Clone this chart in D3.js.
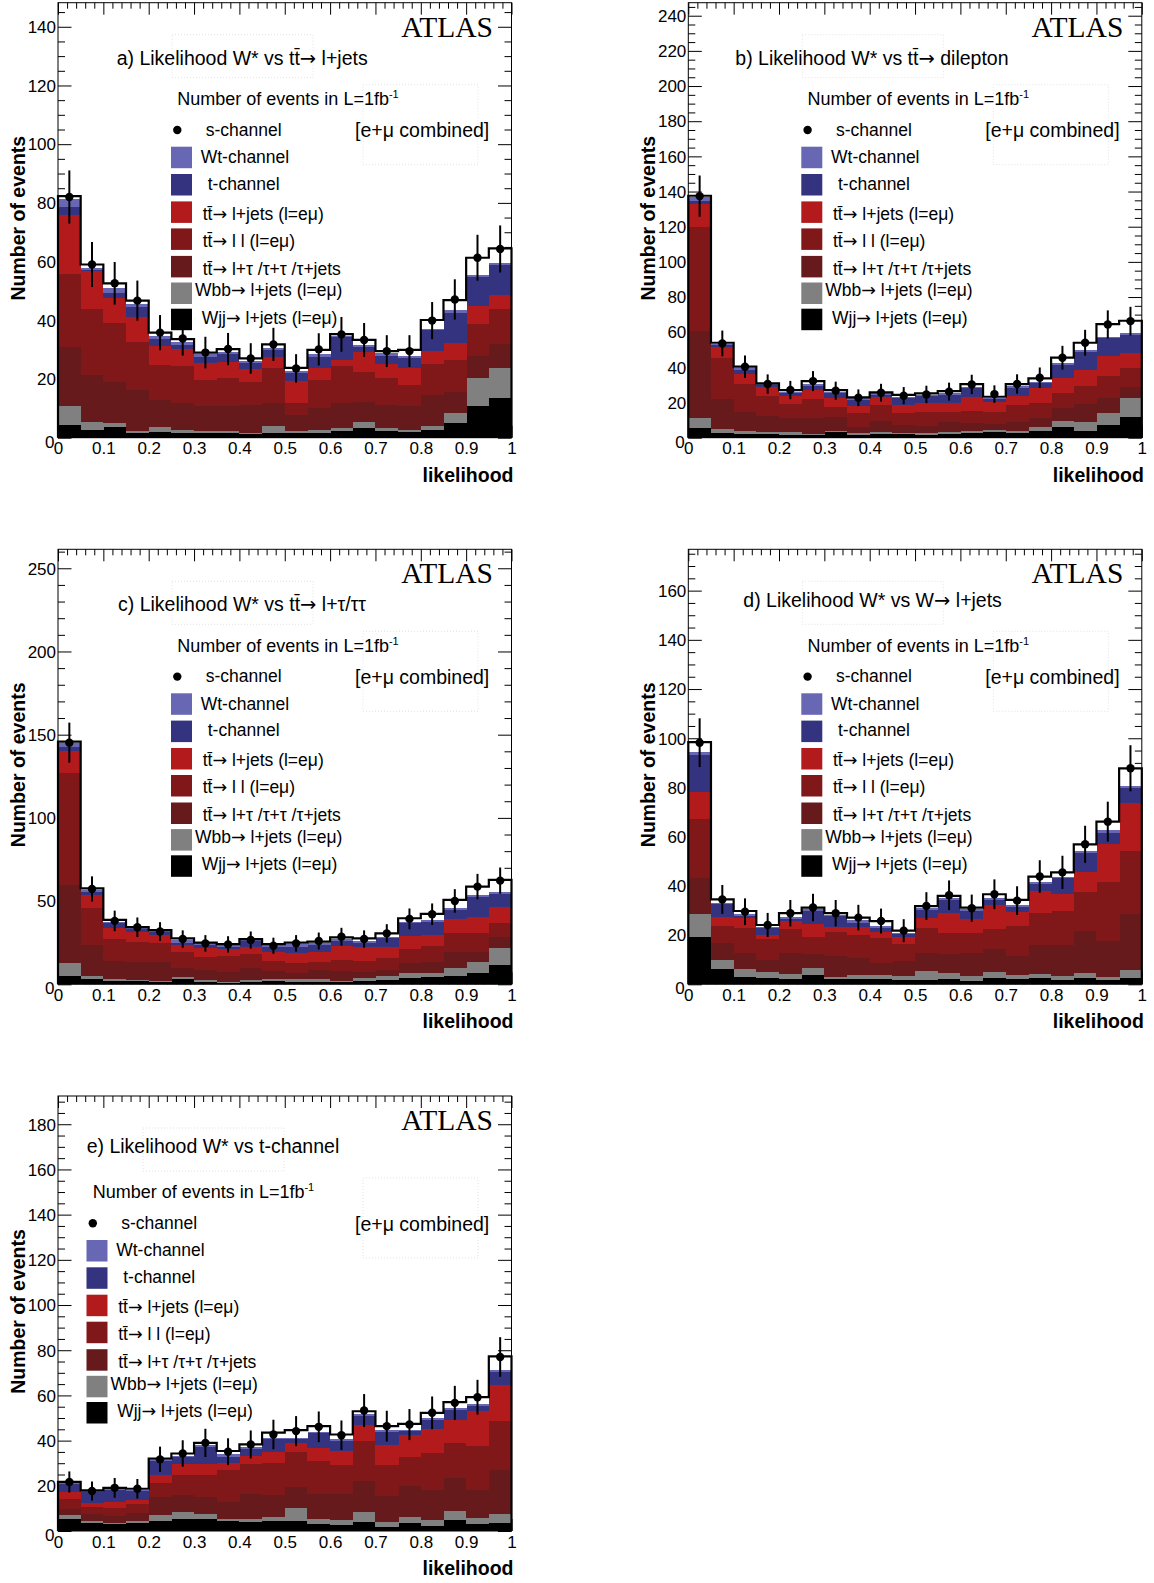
<!DOCTYPE html>
<html><head><meta charset="utf-8">
<script src="https://cdn.jsdelivr.net/npm/d3@7"></script>
<style>
body{margin:0;background:#fff}
svg{display:block}
text{font-family:"Liberation Sans",Arial,Helvetica,sans-serif;fill:#000}
</style>
</head><body><div id="chart"></div>
<script>
// ---------------- data ----------------
const binLow = [0,0.05,0.1,0.15,0.2,0.25,0.3,0.35,0.4,0.45,0.5,0.55,0.6,0.65,0.7,0.75,0.8,0.85,0.9,0.95];
const binWidth = 0.05;
const xTickLabels = ["0","0.1","0.2","0.3","0.4","0.5","0.6","0.7","0.8","0.9","1"];
const seriesNames = ["Wjj","Wbb","ttTau","ttLL","ttLJ","tch","Wt","sch"];
const legendLabels = ["s-channel","Wt-channel","t-channel","tt\u0304\u2192 l+jets (l=e\u03bc)","tt\u0304\u2192 l l (l=e\u03bc)","tt\u0304\u2192 l+\u03c4 /\u03c4+\u03c4 /\u03c4+jets","Wbb\u2192 l+jets (l=e\u03bc)","Wjj\u2192 l+jets (l=e\u03bc)"];

// panel a: W* vs tt -> l+jets
const aWjj   = [4.3,2.6,3.7,1.5,1.8,1.7,1.6,1.6,1.2,1.7,1.5,1.5,2.3,3.2,2.3,2.0,2.6,4.9,10.8,13.4];
const aWbb   = [6.5,2.7,1.2,0.9,1.9,0.9,0.7,0.8,0.5,2.3,0.8,1.1,0.9,2.3,1.1,0.6,1.4,3.4,9.4,10.4];
const aTtTau = [20.2,16.0,14.1,13.8,9.1,9.1,8.5,8.4,9.4,7.9,5.4,7.6,8.5,6.8,7.7,8.2,10.5,7.4,7.6,8.1];
const aTtLL  = [24.8,22.5,20.2,16.5,12.0,12.7,8.8,9.4,8.0,11.9,4.2,9.4,12.7,10.2,9.1,7.1,10.5,10.8,11.1,11.8];
const aTtLJ  = [20.0,13.0,8.3,8.3,6.4,5.7,5.7,5.7,4.2,3.8,7.4,4.2,2.1,6.6,4.8,5.9,4.5,5.6,6.0,4.9];
const aTch   = [2.9,0.5,1.7,3.4,2.3,1.5,2.1,2.5,2.0,2.3,2.8,3.8,7.7,1.9,2.8,3.5,7.2,10.5,9.9,10.2];
const aWt    = [2.6,0.6,1.7,1.1,1.1,1.1,1.0,0.9,0.8,0.8,0.6,0.8,0.4,0.6,0.9,0.5,0.5,0.9,0.6,0.6];
const aSch   = [1.0,1.1,1.7,1.2,1.2,0.9,0.6,0.9,0.9,1.1,1.1,1.5,0.7,1.7,0.8,2.1,2.9,3.4,5.9,5.1];
const aData  = [82.0,59.0,52.6,46.7,35.8,33.8,29.0,30.2,27.0,31.8,23.6,30.1,35.2,33.3,29.5,29.5,39.9,47.1,61.3,64.3];

// panel b: W* vs tt -> dilepton
const bWjj   = [5.3,2.8,2.1,2.1,1.5,1.5,3.4,1.5,2.1,1.9,1.5,1.9,2.8,3.0,2.5,4.0,6.3,3.8,7.2,11.9];
const bWbb   = [5.7,1.9,1.7,0.9,1.5,0.6,0.4,1.0,0.9,0.9,1.3,1.5,1.0,1.4,1.5,1.9,3.4,5.3,6.6,10.8];
const bTtTau = [49.7,17.3,11.0,9.5,8.0,8.9,8.1,3.8,6.7,4.4,3.8,5.7,4.4,3.4,5.1,5.5,7.0,10.0,8.9,5.9];
const bTtLL  = [59.3,23.5,15.7,11.4,8.0,11.0,5.7,7.5,8.9,7.0,7.8,5.3,7.0,7.0,9.5,8.5,8.5,10.3,12.6,11.2];
const bTtLJ  = [12.9,6.3,5.5,5.1,4.9,5.1,5.1,4.4,4.7,4.4,5.5,5.1,7.7,5.3,5.1,8.2,8.5,9.1,11.1,8.2];
const bTch   = [1.7,0.9,2.5,1.0,1.3,2.5,2.5,3.2,1.0,4.1,3.8,4.8,5.2,1.7,4.7,2.8,7.6,10.4,10.1,10.4];
const bWt    = [2.1,0.6,0.9,0.5,1.0,0.9,1.0,1.0,0.9,0.6,0.6,0.9,0.9,0.6,1.0,0.9,1.4,1.0,0.9,1.3];
const bSch   = [0.9,0.7,1.0,0.4,0.9,1.7,0.9,0.5,0.6,1.0,0.9,1.3,1.5,0.9,1.1,1.9,2.8,4.1,7.2,6.8];
const bData  = [137.4,53.6,40.4,30.5,27.1,32.2,26.7,22.7,25.6,23.9,24.6,26.2,30.3,24.8,30.5,34.1,45.5,54.0,64.4,66.3];

// panel c: W* vs tt -> l+tau / tau tau
const cWjj   = [5.2,3.2,2.2,2.0,1.6,3.0,1.6,1.0,1.6,2.2,1.6,1.6,1.2,2.2,2.6,3.6,4.2,5.2,6.6,11.6];
const cWbb   = [7.8,2.0,0.8,0.6,0.6,1.6,1.0,0.6,1.0,1.0,1.4,1.4,1.0,1.4,2.4,3.4,2.8,4.4,7.0,10.0];
const cTtTau = [46.7,18.4,11.2,10.6,11.4,5.4,6.0,5.6,7.4,5.0,3.6,5.6,6.0,4.0,3.6,6.0,6.6,10.0,6.0,7.0];
const cTtLL  = [67.1,22.1,12.8,12.4,11.4,9.2,8.0,9.8,8.0,6.0,6.4,5.0,6.4,6.4,7.0,8.0,9.4,11.0,11.0,8.1];
const cTtLJ  = [13.4,8.0,6.7,6.1,4.6,4.4,5.0,4.0,4.6,5.0,5.6,6.0,8.4,8.2,6.6,8.0,6.6,8.5,10.1,10.0];
const cTch   = [2.6,2.0,3.0,1.4,1.7,1.4,2.0,1.6,3.4,3.0,4.0,4.0,3.0,2.4,5.8,7.7,8.1,5.6,11.6,7.6];
const cWt    = [2.0,1.0,1.0,0.6,1.0,1.6,1.0,1.0,0.6,1.4,1.4,1.0,1.0,1.4,0.6,1.0,1.0,1.4,1.4,1.4];
const cSch   = [1.0,1.0,1.0,0.6,0.2,1.0,0.4,0.6,0.6,0.6,1.0,1.0,1.2,1.6,2.0,2.0,3.6,4.6,5.0,7.0];
const cData  = [145.2,57.3,38.1,34.3,31.7,27.2,24.6,24.0,26.6,23.2,24.6,26.0,28.6,27.2,30.6,39.3,42.1,50.1,58.7,62.3];

// panel d: W* vs W -> l+jets
const dWjj   = [19.4,6.2,3.1,2.4,2.0,3.8,2.0,2.0,2.0,1.8,1.8,2.2,1.5,2.4,2.0,2.4,1.8,2.7,1.8,2.7];
const dWbb   = [9.1,3.7,3.1,2.5,2.2,2.7,1.1,1.8,1.8,1.7,3.8,2.5,1.9,2.7,1.8,1.8,1.6,2.0,1.3,3.1];
const dTtTau = [14.9,7.0,6.7,5.0,8.7,5.8,8.4,6.8,5.0,6.1,7.3,7.5,9.2,9.1,7.7,11.8,12.6,17.0,14.5,22.8];
const dTtLL  = [23.7,6.9,10.1,8.4,9.5,7.1,9.9,9.5,10.2,6.7,9.9,8.8,8.1,8.2,12.2,12.9,13.8,16.0,24.1,25.6];
const dTtLJ  = [11.2,3.4,3.8,1.8,3.3,5.1,1.8,3.3,2.4,2.8,4.0,7.9,5.9,9.8,5.8,9.0,6.9,8.1,15.3,19.4];
const dTch   = [14.9,5.3,1.1,2.7,0.9,5.4,4.6,1.7,1.6,1.2,3.4,5.4,3.2,2.1,2.1,2.9,6.4,7.4,4.4,6.1];
const dWt    = [1.1,0.7,0.7,0.6,0.9,0.6,0.4,1.0,0.8,0.7,0.7,0.7,0.7,0.7,0.6,0.7,0.7,1.1,1.3,1.0];
const dSch   = [4.1,1.3,1.2,0.7,1.4,0.7,0.7,1.0,1.9,0.8,0.9,0.9,0.7,1.6,2.1,2.3,1.7,2.6,3.4,7.1];
const dData  = [98.2,34.5,29.5,24.1,28.9,31.2,28.9,27.1,25.7,21.8,31.8,36.2,30.9,36.6,34.0,43.8,45.5,56.9,66.1,87.8];

// panel e: W* vs t-channel
const eWjj   = [5.5,3.7,2.9,3.7,4.4,5.2,5.2,4.4,4.0,4.4,4.4,2.9,2.5,4.0,1.9,3.4,2.2,4.9,3.2,3.4];
const eWbb   = [1.4,0.7,0.8,0.7,2.5,3.2,2.2,1.1,1.2,1.8,5.9,2.3,2.2,4.5,2.2,2.8,2.5,3.9,2.4,4.0];
const eTtTau = [3.0,3.0,2.9,3.7,8.1,7.4,7.8,7.3,11.0,9.6,9.1,11.0,11.5,13.6,11.4,13.7,13.3,14.5,12.4,19.4];
const eTtLL  = [4.4,3.4,3.7,3.7,6.4,8.8,9.8,14.0,13.3,14.4,15.5,14.7,13.0,17.7,13.7,12.9,16.6,15.7,19.6,21.8];
const eTtLJ  = [3.1,1.4,2.5,1.9,3.2,4.9,4.5,3.4,3.6,4.7,4.1,5.9,6.2,6.9,8.7,9.5,10.6,10.3,15.4,16.2];
const eTch   = [3.5,5.0,5.2,4.0,6.3,3.2,7.6,2.5,3.3,5.6,1.5,6.4,4.4,4.1,5.8,1.9,3.8,4.2,2.5,5.5];
const eWt    = [0.5,0.5,0.4,0.4,0.5,0.7,0.8,1.2,0.7,0.7,0.7,0.7,0.7,0.8,0.8,0.7,0.8,1.0,0.9,1.1];
const eSch   = [0.3,0.3,0.7,0.6,0.6,0.9,1.1,1.5,1.2,2.3,3.4,2.5,2.2,1.4,1.9,2.5,2.5,2.5,2.8,5.9];
const eData  = [21.7,17.7,19.1,18.7,31.7,34.3,39.0,35.1,38.3,42.7,44.2,46.1,42.4,53.3,46.4,47.1,52.3,56.7,59.2,77.0];

// ---------------- styles / layout ----------------
const seriesColors = {Wjj:"#000000",Wbb:"#808080",ttTau:"#671a1b",ttLL:"#80181a",ttLJ:"#b31a1c",tch:"#333380",Wt:"#6767b4",sch:"#ffffff"};
const legendKeys = ["sch","Wt","tch","ttLJ","ttLL","ttTau","Wbb","Wjj"];

const panels = [
  {title:"a) Likelihood W* vs tt\u0304\u2192 l+jets", series:[aWjj,aWbb,aTtTau,aTtLL,aTtLJ,aTch,aWt,aSch], data:aData,
   L:58, T:2.7, ymax:148.2, major:20, minor:5, titleDx:58.7, titleDy:62, legShift:0, boxShift:0},
  {title:"b) Likelihood W* vs tt\u0304\u2192 dilepton", series:[bWjj,bWbb,bTtTau,bTtLL,bTtLJ,bTch,bWt,bSch], data:bData,
   L:688.3, T:2.7, ymax:247.4, major:20, minor:5, titleDx:47, titleDy:62, legShift:0, boxShift:0},
  {title:"c) Likelihood W* vs tt\u0304\u2192 l+\u03c4/\u03c4\u03c4", series:[cWjj,cWbb,cTtTau,cTtLL,cTtLJ,cTch,cWt,cSch], data:cData,
   L:58, T:549.3, ymax:261.4, major:50, minor:10, titleDx:60, titleDy:61.4, legShift:0, boxShift:0},
  {title:"d) Likelihood W* vs W\u2192 l+jets", series:[dWjj,dWbb,dTtTau,dTtLL,dTtLJ,dTch,dWt,dSch], data:dData,
   L:688.3, T:549.3, ymax:176.8, major:20, minor:5, titleDx:55, titleDy:57.4, legShift:0, boxShift:0},
  {title:"e) Likelihood W* vs t-channel", series:[eWjj,eWbb,eTtTau,eTtLL,eTtLJ,eTch,eWt,eSch], data:eData,
   L:58, T:1096, ymax:192.5, major:20, minor:5, titleDx:28.7, titleDy:56.7, legShift:-84.5, boxShift:-29}
];

const PW = 453.5, PH = 435;
const svg = d3.select("#chart").append("svg").attr("width",1154).attr("height",1583);

// legend row layout (relative to panel top)
const rowCenter = [127.3,154.8,182.1,209.5,236.5,264.0,290.6,316.8];
const rowBase   = [132.8,160.2,187.0,217.0,243.8,272.0,293.6,320.8];
const textDx    = [34.7,29.7,36.7,31.7,31.7,31.7,24.0,30.7];

// text with a wider arrow glyph (DejaVu Sans) like the ROOT Symbol arrow
function richText(sel, str) {
  const parts = str.split("\u2192");
  parts.forEach((part, i) => {
    if (i > 0) sel.append("tspan").style("font-family","DejaVu Sans, sans-serif").text("\u2192");
    if (part.length) sel.append("tspan").attr("xml:space","preserve").text(part);
  });
  return sel;
}

panels.forEach(p => {
  const L = p.L, T = p.T, R = L + PW, B = T + PH;
  const x = d3.scaleLinear().domain([0,1]).range([L,R]);
  const y = d3.scaleLinear().domain([0,p.ymax]).range([B,T]);
  const g = svg.append("g");

  // faint dotted pave outlines
  const fb = g.append("g").attr("fill","none").attr("stroke","#e2e2e2").attr("stroke-width",1).attr("stroke-dasharray","1,2");
  fb.append("rect").attr("x",L+114+p.boxShift).attr("y",T+32).attr("width",141).attr("height",43);
  fb.append("rect").attr("x",L+305).attr("y",T+82).attr("width",115).attr("height",80);

  // frame
  g.append("rect").attr("x",L).attr("y",T).attr("width",PW).attr("height",PH)
    .attr("fill","none").attr("stroke","#000").attr("stroke-width",1);

  // axes
  const yMajor = d3.range(0, p.ymax+1e-6, p.major);
  const yMinor = d3.range(0, p.ymax+1e-6, p.minor).filter(v => Math.abs(v/p.major - Math.round(v/p.major))>1e-6);
  const xMajor = d3.range(0, 1.0001, 0.1);
  const xMinor = d3.range(0, 1.0001, 0.02).filter(v => Math.abs(v*10 - Math.round(v*10))>1e-6);
  const clean = sel => sel.select(".domain").remove();
  const axStyle = sel => sel.selectAll("line").attr("stroke","#000").attr("stroke-width",1);

  g.append("g").attr("transform",`translate(${L},0)`)
    .call(d3.axisLeft(y).tickValues(yMajor).tickSize(-13.5).tickPadding(2).tickFormat(d3.format("d")))
    .call(clean).call(axStyle)
    .call(s => s.selectAll("text").attr("font-size",17).attr("font-family","Liberation Sans, Arial, sans-serif")
      .attr("x", d => d===0 ? -3.5 : -2)
      .attr("dy", d => d===0 ? "0.55em" : "0.34em"));
  g.append("g").attr("transform",`translate(${L},0)`)
    .call(d3.axisLeft(y).tickValues(yMinor).tickSize(-7).tickFormat(""))
    .call(clean).call(axStyle);
  g.append("g").attr("transform",`translate(${R},0)`)
    .call(d3.axisRight(y).tickValues(yMajor).tickSize(-13.5).tickFormat(""))
    .call(clean).call(axStyle);
  g.append("g").attr("transform",`translate(${R},0)`)
    .call(d3.axisRight(y).tickValues(yMinor).tickSize(-7).tickFormat(""))
    .call(clean).call(axStyle);
  g.append("g").attr("transform",`translate(0,${T})`)
    .call(d3.axisTop(x).tickValues(xMajor).tickSize(-12).tickFormat(""))
    .call(clean).call(axStyle);
  g.append("g").attr("transform",`translate(0,${T})`)
    .call(d3.axisTop(x).tickValues(xMinor).tickSize(-6).tickFormat(""))
    .call(clean).call(axStyle);
  g.append("g").attr("transform",`translate(0,${B})`)
    .call(d3.axisBottom(x).tickValues(xMajor).tickSize(-12).tickPadding(4.5).tickFormat((d,i)=>xTickLabels[i]))
    .call(clean).call(axStyle)
    .call(s => s.selectAll("text").attr("font-size",17).attr("font-family","Liberation Sans, Arial, sans-serif"));
  g.append("g").attr("transform",`translate(0,${B})`)
    .call(d3.axisBottom(x).tickValues(xMinor).tickSize(-6).tickFormat(""))
    .call(clean).call(axStyle);

  // stacked histogram
  const rows = binLow.map((lo,i) => {
    const o = {lo:lo};
    seriesNames.forEach((n,k) => o[n] = p.series[k][i]);
    return o;
  });
  const stacked = d3.stack().keys(seriesNames)(rows);
  const hg = g.append("g");
  stacked.forEach(layer => {
    hg.append("g").attr("fill", seriesColors[layer.key]).attr("shape-rendering","crispEdges")
      .selectAll("rect").data(layer).join("rect")
      .attr("x", d => x(d.data.lo))
      .attr("width", d => x(d.data.lo + binWidth) - x(d.data.lo) + 0.4)
      .attr("y", d => y(d[1]))
      .attr("height", d => Math.max(0, y(d[0]) - y(d[1])));
  });

  // outline of the total
  const top = stacked[stacked.length-1];
  const pts = [[0,0]];
  top.forEach(d => { pts.push([d.data.lo, d[1]]); pts.push([d.data.lo+binWidth, d[1]]); });
  pts.push([1,0]);
  g.append("path").attr("d", d3.line().x(d=>x(d[0])).y(d=>y(d[1]))(pts))
    .attr("fill","none").attr("stroke","#000").attr("stroke-width",2.2);

  // data points with Poisson error bars
  const dg = g.append("g");
  p.data.forEach((v,i) => {
    const cx = x(binLow[i] + binWidth/2);
    const e = Math.sqrt(v);
    dg.append("line").attr("x1",cx).attr("x2",cx).attr("y1",y(v-e)).attr("y2",y(v+e))
      .attr("stroke","#000").attr("stroke-width",2);
    dg.append("circle").attr("cx",cx).attr("cy",y(v)).attr("r",4.2).attr("fill","#000");
  });

  // texts
  g.append("text").attr("x",R-18.5).attr("y",T+34).attr("text-anchor","end")
    .style("font-family","Liberation Serif, Times New Roman, serif")
    .attr("font-size",29.5).text("ATLAS");
  richText(g.append("text").attr("x",L+p.titleDx).attr("y",T+p.titleDy).attr("font-size",19.5), p.title);
  g.append("text").attr("x",R+2).attr("y",B+44).attr("text-anchor","end")
    .attr("font-size",19.5).attr("font-weight","bold").text("likelihood");
  g.append("text").attr("transform",`translate(${L-33},${(T+B)/2 - 2}) rotate(-90)`)
    .attr("text-anchor","middle").attr("font-size",19.5).attr("font-weight","bold").text("Number of events");

  // legend
  const lx = L + 113 + p.legShift;
  const hdr = g.append("text").attr("x",lx+6.3).attr("y",T+102.3).attr("font-size",18);
  hdr.append("tspan").text("Number of events in L=1fb");
  hdr.append("tspan").attr("dy",-7).attr("font-size",11).text("-1");
  legendKeys.forEach((k,i) => {
    const cy = T + rowCenter[i];
    if (k === "sch") {
      g.append("circle").attr("cx",lx+6.3).attr("cy",cy).attr("r",4.2).attr("fill","#000");
    } else {
      g.append("rect").attr("x",lx).attr("y",cy-10.8).attr("width",21).attr("height",21.5).attr("fill",seriesColors[k]);
    }
    richText(g.append("text").attr("x",lx+textDx[i]).attr("y",T+rowBase[i]).attr("font-size",17.5), legendLabels[i]);
  });
  g.append("text").attr("x",L+297).attr("y",T+134.5).attr("font-size",19.5).text("[e+\u03bc combined]");
});
</script>
</body></html>
